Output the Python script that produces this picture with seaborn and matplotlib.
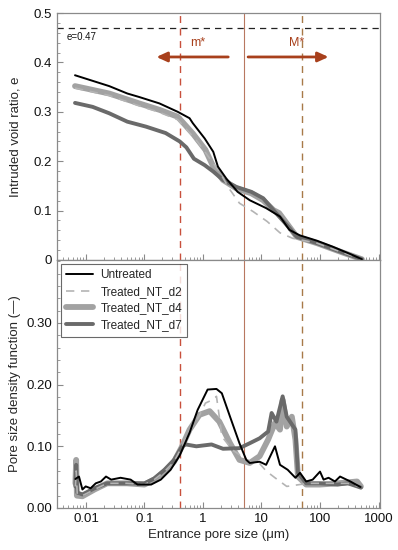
import matplotlib
matplotlib.use("Agg")
import matplotlib.pyplot as plt
import seaborn as sns
import numpy as np
import pandas as pd
from matplotlib.ticker import MultipleLocator, LogLocator, NullFormatter, FixedLocator, FixedFormatter

# ---------------- data ----------------
series_names = ["Untreated", "Treated_NT_d2", "Treated_NT_d4", "Treated_NT_d7"]

# Top panel: intruded void ratio e vs entrance pore size (um)
x_e_untreated = [0.0065, 0.025, 0.051, 0.081, 0.18, 0.37, 0.59, 0.67, 1.07, 1.5, 1.8, 2.5, 3.9, 6.3, 12, 20.7, 30, 45, 89, 165, 330, 520]
e_untreated = [0.374, 0.352, 0.337, 0.33, 0.317, 0.30, 0.287, 0.277, 0.246, 0.219, 0.189, 0.165, 0.138, 0.121, 0.105, 0.088, 0.061, 0.05, 0.039, 0.027, 0.012, 0.0015]

x_e_d2 = [0.0065, 0.025, 0.081, 0.18, 0.37, 0.8, 1.9, 2.9, 4.2, 7.2, 12.5, 20.7, 34, 89, 220, 520]
e_d2 = [0.348, 0.333, 0.312, 0.299, 0.284, 0.24, 0.179, 0.142, 0.115, 0.098, 0.078, 0.055, 0.044, 0.034, 0.017, 0.0015]

x_e_d4 = [0.0065, 0.025, 0.081, 0.18, 0.37, 0.67, 1.1, 1.5, 2.2, 3.7, 6.7, 10.7, 16, 20, 30, 40, 89, 220, 520]
e_d4 = [0.352, 0.337, 0.317, 0.304, 0.29, 0.256, 0.223, 0.189, 0.162, 0.145, 0.135, 0.121, 0.101, 0.095, 0.067, 0.047, 0.034, 0.017, 0.0015]

x_e_d7 = [0.0065, 0.013, 0.025, 0.051, 0.106, 0.23, 0.4, 0.52, 0.7, 1.07, 1.5, 2.2, 3.7, 6.7, 10.7, 18, 30, 40, 89, 220, 520]
e_d7 = [0.318, 0.31, 0.297, 0.28, 0.27, 0.257, 0.24, 0.228, 0.205, 0.192, 0.179, 0.162, 0.148, 0.138, 0.125, 0.094, 0.065, 0.047, 0.034, 0.017, 0.0015]

# Bottom panel: pore size density function
x_f_untreated = [0.0066, 0.0076, 0.0087, 0.0099, 0.012, 0.0147, 0.018, 0.022, 0.027, 0.039, 0.058, 0.076, 0.13, 0.19, 0.28, 0.4, 0.59, 0.81, 1.2, 1.7, 2.1, 2.9, 4.2, 5.5, 6.3, 9.3, 12, 17, 20.7, 28, 38, 45.6, 58, 75, 100, 115, 140, 180, 220, 330, 490]
f_untreated = [0.047, 0.051, 0.03, 0.035, 0.032, 0.04, 0.043, 0.051, 0.046, 0.049, 0.046, 0.038, 0.038, 0.046, 0.062, 0.085, 0.122, 0.159, 0.192, 0.193, 0.186, 0.148, 0.105, 0.078, 0.073, 0.075, 0.07, 0.1, 0.07, 0.062, 0.049, 0.057, 0.043, 0.046, 0.059, 0.046, 0.049, 0.043, 0.051, 0.043, 0.034]

x_f_d2 = [0.0066, 0.0068, 0.0071, 0.0087, 0.014, 0.023, 0.05, 0.1, 0.147, 0.22, 0.32, 0.44, 0.59, 0.87, 1.1, 1.5, 1.7, 1.9, 2.1, 3.2, 6.3, 9.3, 12, 17, 27, 45, 70, 150, 300, 500]
f_d2 = [0.035, 0.06, 0.022, 0.02, 0.03, 0.04, 0.04, 0.038, 0.046, 0.059, 0.075, 0.1, 0.125, 0.15, 0.17, 0.176, 0.181, 0.148, 0.116, 0.094, 0.075, 0.072, 0.06, 0.049, 0.035, 0.038, 0.04, 0.04, 0.04, 0.034]

x_f_d4 = [0.0066, 0.0068, 0.0070, 0.0087, 0.014, 0.023, 0.05, 0.1, 0.147, 0.22, 0.32, 0.44, 0.59, 0.87, 1.3, 1.9, 2.9, 4.2, 6.3, 9.3, 13, 17, 20.7, 23, 27, 33, 38, 42, 58, 100, 200, 430, 500]
f_d4 = [0.04, 0.078, 0.02, 0.019, 0.03, 0.04, 0.04, 0.038, 0.046, 0.059, 0.075, 0.1, 0.127, 0.151, 0.157, 0.14, 0.105, 0.078, 0.073, 0.084, 0.111, 0.138, 0.127, 0.175, 0.132, 0.148, 0.111, 0.051, 0.038, 0.038, 0.04, 0.043, 0.035]

x_f_d7 = [0.0066, 0.0068, 0.0071, 0.0087, 0.014, 0.023, 0.05, 0.1, 0.147, 0.22, 0.32, 0.44, 0.51, 0.77, 1.4, 2.2, 4.2, 6.3, 9.3, 13, 14.9, 18, 23, 27, 38, 42, 58, 100, 200, 300, 500]
f_d7 = [0.035, 0.07, 0.025, 0.022, 0.032, 0.04, 0.04, 0.04, 0.048, 0.062, 0.078, 0.1, 0.103, 0.1, 0.103, 0.096, 0.097, 0.105, 0.113, 0.124, 0.154, 0.14, 0.181, 0.148, 0.127, 0.057, 0.04, 0.04, 0.038, 0.04, 0.033]

e_total = 0.47
m_star = 0.4
mid_line = 5
M_star = 50

top_yticks = [0, 0.1, 0.2, 0.3, 0.4, 0.5]
top_yticklabels = ["0", "0.1", "0.2", "0.3", "0.4", "0.5"]
bot_yticks = [0.0, 0.1, 0.2, 0.3]
bot_yticklabels = ["0.00", "0.10", "0.20", "0.30"]
xticks = [0.01, 0.1, 1, 10, 100, 1000]
xticklabels = ["0.01", "0.1", "1", "10", "100", "1000"]

# ---------------- style ----------------
sns.set_style("ticks")
plt.rcParams['font.family'] = ['Liberation Sans', 'DejaVu Sans']
plt.rcParams['font.size'] = 9

styles = {
    "Untreated":     dict(color="#000000", lw=1.4, ls="-", z=5),
    "Treated_NT_d2": dict(color="#b4b4b4", lw=1.2, ls=(0, (5, 4)), z=4),
    "Treated_NT_d4": dict(color="#a2a2a2", lw=4.2, ls="-", z=2),
    "Treated_NT_d7": dict(color="#6a6a6a", lw=2.8, ls="-", z=3),
}

top_data = {
    "Untreated": (x_e_untreated, e_untreated),
    "Treated_NT_d2": (x_e_d2, e_d2),
    "Treated_NT_d4": (x_e_d4, e_d4),
    "Treated_NT_d7": (x_e_d7, e_d7),
}
bot_data = {
    "Untreated": (x_f_untreated, f_untreated),
    "Treated_NT_d2": (x_f_d2, f_d2),
    "Treated_NT_d4": (x_f_d4, f_d4),
    "Treated_NT_d7": (x_f_d7, f_d7),
}

fig = plt.figure(figsize=(3.98, 5.50), dpi=100)
ax_top = fig.add_axes([57/398, 1-260/550, 323/398, 247/550])
ax_bot = fig.add_axes([57/398, 1-508/550, 323/398, 248/550])

spine_col = "#8a8a8a"
xlim = (0.0032, 1060)

def draw(ax, data, with_labels):
    for name in series_names:
        xs, ys = data[name]
        st = styles[name]
        df = pd.DataFrame({"x": xs, "y": ys})
        sns.lineplot(data=df, x="x", y="y", ax=ax, sort=False, estimator=None,
                     color=st["color"], lw=st["lw"], ls=st["ls"], zorder=st["z"],
                     label=name if with_labels else None, legend=False,
                     solid_capstyle="round")

for ax, data, lab in [(ax_top, top_data, False), (ax_bot, bot_data, True)]:
    draw(ax, data, lab)
    ax.set_xscale("log")
    ax.set_xlim(*xlim)
    ax.axvline(m_star, color="#c8503c", lw=1.0, ls=(0, (5, 4)), zorder=1)
    ax.axvline(mid_line, color="#b87860", lw=0.8, ls="-", zorder=1)
    ax.axvline(M_star, color="#a87a48", lw=1.0, ls=(0, (5, 4)), zorder=1)
    for s in ax.spines.values():
        s.set_color(spine_col)
        s.set_linewidth(0.9)
    ax.tick_params(axis="both", which="both", direction="in", color=spine_col, labelcolor="#111111", labelsize=9.5)
    ax.tick_params(which="major", length=4)
    ax.tick_params(which="minor", length=2)
    ax.xaxis.set_major_locator(FixedLocator(xticks))
    ax.xaxis.set_minor_locator(LogLocator(base=10, subs=np.arange(2, 10), numticks=20))
    ax.xaxis.set_minor_formatter(NullFormatter())
    ax.set_xlabel("")

# top panel
ax_top.set_ylim(0, 0.5)
ax_top.yaxis.set_major_locator(FixedLocator(top_yticks))
ax_top.yaxis.set_major_formatter(FixedFormatter(top_yticklabels))
ax_top.yaxis.set_minor_locator(MultipleLocator(0.02))
ax_top.set_xticklabels([])
ax_top.set_ylabel("Intruded void ratio, e", fontsize=9.5)
ax_top.axhline(e_total, color="#222222", lw=0.9, ls=(0, (5, 4)), zorder=1)
ax_top.text(0.0047, 0.462, "e=0.47", fontsize=7, va="top", ha="left", color="#111111")

arrow_col = "#a8401c"
ax_top.annotate("", xy=(0.16, 0.411), xytext=(2.7, 0.411),
                arrowprops=dict(arrowstyle="-|>,head_length=0.7,head_width=0.32", color=arrow_col, lw=2, shrinkA=0, shrinkB=0))
ax_top.annotate("", xy=(140, 0.411), xytext=(5.9, 0.411),
                arrowprops=dict(arrowstyle="-|>,head_length=0.7,head_width=0.32", color=arrow_col, lw=2, shrinkA=0, shrinkB=0))
ax_top.text(0.8, 0.428, "m*", color=arrow_col, fontsize=9, ha="center", va="bottom")
ax_top.text(40, 0.428, "M*", color=arrow_col, fontsize=9, ha="center", va="bottom")

# bottom panel
ax_bot.set_ylim(0, 0.402)
ax_bot.yaxis.set_major_locator(FixedLocator(bot_yticks))
ax_bot.yaxis.set_major_formatter(FixedFormatter(bot_yticklabels))
ax_bot.yaxis.set_minor_locator(MultipleLocator(0.02))
ax_bot.set_xticklabels(xticklabels)
ax_bot.set_ylabel("Pore size density function (\u2014)", fontsize=9.5)
ax_bot.set_xlabel("Entrance pore size (\u03bcm)", fontsize=9.5, labelpad=3)
ax_top.yaxis.set_label_coords(-0.11, 0.5)
ax_bot.yaxis.set_label_coords(-0.11, 0.5)

leg = ax_bot.legend(loc="upper left", fontsize=8.5, frameon=True, fancybox=False,
                    handlelength=2.3, handletextpad=0.6, borderpad=0.45, labelspacing=0.4,
                    bbox_to_anchor=(0.012, 0.985), borderaxespad=0.0)
leg.get_frame().set_edgecolor("#444444")
leg.get_frame().set_linewidth(0.8)

fig.savefig("out.png", dpi=100)
